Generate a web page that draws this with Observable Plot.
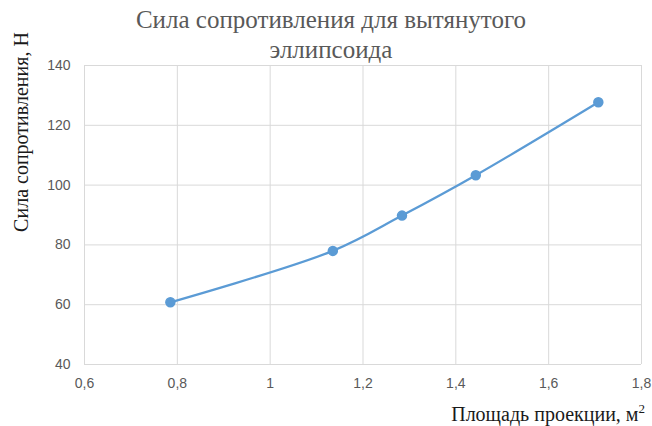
<!DOCTYPE html>
<html>
<head>
<meta charset="utf-8">
<script src="https://cdn.jsdelivr.net/npm/d3@7"></script>
<script src="https://cdn.jsdelivr.net/npm/@observablehq/plot@0.6"></script>
<style>
  html, body { margin: 0; padding: 0; background: #fff; }
  #chart { width: 652px; height: 426px; }
</style>
</head>
<body>
<div id="chart"></div>
<script>
const area = [0.785, 1.135, 1.284, 1.443, 1.707];
const force = [60.8, 78.0, 89.8, 103.3, 127.7];
const xTicks = [0.6, 0.8, 1.0, 1.2, 1.4, 1.6, 1.8];
const yTicks = [40, 60, 80, 100, 120, 140];
const titleLines = ["Сила сопротивления для вытянутого", "эллипсоида"];
const yLabel = "Сила сопротивления, Н";
const xLabelMain = "Площадь проекции, м";
const xLabelSup = "2";

const data = area.map((a, i) => ({area: a, force: force[i]}));
const fmt = d => String(+d.toFixed(1)).replace(".", ",");
const blue = "#5b9bd5";
const grid = "#d9d9d9";
const tickColor = "#595959";
const serif = "font-family: 'Liberation Serif', 'DejaVu Serif', serif;";

const chart = Plot.plot({
  width: 652,
  height: 426,
  marginLeft: 84,
  marginRight: 11,
  marginTop: 65,
  marginBottom: 62,
  style: {background: "#fff", fontFamily: "'Liberation Sans', sans-serif"},
  x: {domain: [0.6, 1.8], label: null},
  y: {domain: [40, 140], label: null},
  marks: [
    Plot.gridX(xTicks, {stroke: grid, strokeOpacity: 1, strokeWidth: 1}),
    Plot.gridY(yTicks, {stroke: grid, strokeOpacity: 1, strokeWidth: 1}),
    Plot.axisX(xTicks, {tickFormat: fmt, tickSize: 0, tickPadding: 14, fontSize: 14, fill: tickColor, label: null}),
    Plot.axisY(yTicks, {tickSize: 0, tickPadding: 14, fontSize: 14, fill: tickColor, label: null}),
    Plot.line(data, {x: "area", y: "force", stroke: blue, strokeWidth: 2.25, curve: "catmull-rom"}),
    Plot.dot(data, {x: "area", y: "force", r: 4.5, fill: blue, stroke: blue})
  ]
});
document.getElementById("chart").appendChild(chart);

const svg = d3.select(chart);
const g = svg.append("g");
g.append("text").attr("x", 331).attr("y", 28).attr("text-anchor", "middle")
  .attr("style", serif + "font-size:25px;fill:#595959").text(titleLines[0]);
g.append("text").attr("x", 331).attr("y", 58).attr("text-anchor", "middle")
  .attr("style", serif + "font-size:25px;fill:#595959").text(titleLines[1]);
const xl = g.append("text").attr("x", 645).attr("y", 421).attr("text-anchor", "end")
  .attr("style", serif + "font-size:20px;fill:#1a1a1a");
xl.append("tspan").text(xLabelMain);
xl.append("tspan").attr("style", "font-size:13px").attr("dy", -8).text(xLabelSup);
g.append("text").attr("transform", "translate(28,132) rotate(-90)").attr("text-anchor", "middle")
  .attr("style", serif + "font-size:20px;fill:#1a1a1a").text(yLabel);
</script>
</body>
</html>
